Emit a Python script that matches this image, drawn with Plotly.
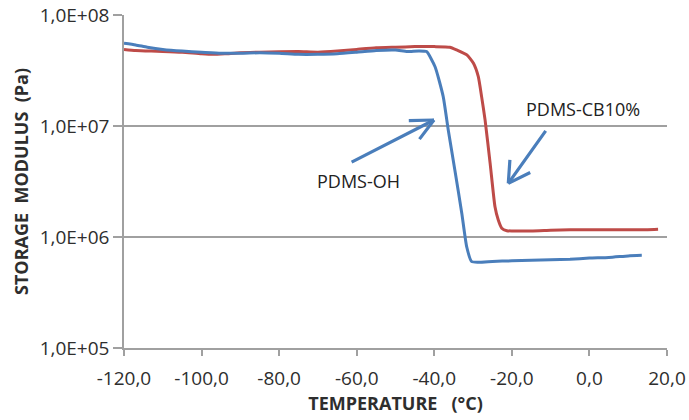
import plotly.graph_objects as go

# ---- data ----
oh_temp = [-120, -117, -114, -110, -105, -100, -95, -90, -85, -80, -75, -70, -65, -60,
           -55, -50, -47, -44, -42, -39.8, -37.7, -36.4, -34.7, -32.9, -31.65, -30.35,
           -25, -20, -15, -10, -5, 0, 5, 10, 13.5]
oh_modulus = [5.56e7, 5.37e7, 5.13e7, 4.90e7, 4.73e7, 4.62e7, 4.52e7, 4.52e7, 4.57e7,
              4.52e7, 4.42e7, 4.42e7, 4.47e7, 4.62e7, 4.79e7, 4.84e7, 4.68e7, 4.75e7,
              4.68e7, 3.42e7, 1.84e7, 9.2e6, 4.02e6, 1.63e6, 8.18e5, 6.0e5,
              6.03e5, 6.10e5, 6.17e5, 6.24e5, 6.31e5, 6.46e5, 6.53e5, 6.76e5, 6.84e5]

cb_temp = [-120, -117, -113, -110, -105, -100, -97, -94, -90, -85, -80, -75, -70, -65,
           -60, -55, -50, -45, -40, -36, -34.2, -31.6, -29.9, -28.65, -27.8, -26.9,
           -25.6, -24.35, -23.5, -22.6, -21.3, -15, -10, -5, 0, 5, 10, 15, 17.7]
cb_modulus = [4.90e7, 4.79e7, 4.73e7, 4.70e7, 4.62e7, 4.47e7, 4.42e7, 4.47e7, 4.57e7,
              4.62e7, 4.66e7, 4.68e7, 4.62e7, 4.73e7, 4.90e7, 5.07e7, 5.13e7, 5.19e7,
              5.19e7, 5.13e7, 4.84e7, 4.37e7, 3.67e7, 2.78e7, 1.84e7, 1.13e7,
              4.61e6, 1.87e6, 1.42e6, 1.20e6, 1.14e6, 1.135e6, 1.15e6, 1.16e6, 1.16e6,
              1.16e6, 1.16e6, 1.165e6, 1.175e6]

x_tick_vals = [-120, -100, -80, -60, -40, -20, 0, 20]
x_tick_text = ["-120,0", "-100,0", "-80,0", "-60,0", "-40,0", "-20,0", "0,0", "20,0"]
y_tick_vals = [1e5, 1e6, 1e7, 1e8]
y_tick_text = ["1,0E+05", "1,0E+06", "1,0E+07", "1,0E+08"]

BLUE = "#4A7EBB"
RED = "#BE4B48"
GRID = "#A0A0A0"
TXT = "#2E2E2E"

fig = go.Figure()
fig.add_trace(go.Scatter(x=cb_temp, y=cb_modulus, mode="lines", name="PDMS-CB10%",
                         line=dict(color=RED, width=3, shape="spline", smoothing=0.5)))
fig.add_trace(go.Scatter(x=oh_temp, y=oh_modulus, mode="lines", name="PDMS-OH",
                         line=dict(color=BLUE, width=3, shape="spline", smoothing=0.5)))

# open "V" arrows: shaft + two arms (data coords; y in log10 units)
arrows = [
    (-40.07, 7.054, [(-61.7, 6.667), (-46.96, 7.048), (-44.12, 6.868)]),
    (-20.92, 6.484, [(-11.0, 6.970), (-20.48, 6.709), (-14.88, 6.588)]),
]
for hx, hy, ends in arrows:
    for ex, ey in ends:
        fig.add_annotation(x=hx, y=hy, ax=ex, ay=ey, xref="x", yref="y",
                           axref="x", ayref="y", text="", showarrow=True,
                           arrowhead=0, arrowwidth=3.2, arrowcolor=BLUE,
                           standoff=0, startstandoff=0)

fig.add_annotation(x=-59.5, y=6.505, xref="x", yref="y", text="PDMS-OH",
                   showarrow=False, font=dict(family="Open Sans", size=18, color="#222222"))
fig.add_annotation(x=-1.7, y=7.153, xref="x", yref="y", text="PDMS-CB10%",
                   showarrow=False, font=dict(family="Open Sans", size=18, color="#222222"))

fig.update_layout(
    template="none",
    width=689, height=420,
    margin=dict(l=124, r=22, t=15, b=72, autoexpand=False),
    paper_bgcolor="white", plot_bgcolor="white",
    showlegend=False,
    font=dict(family="Open Sans", color=TXT),
)
fig.update_xaxes(
    automargin=False,
    range=[-120, 20], tickvals=x_tick_vals, ticktext=x_tick_text,
    tickfont=dict(family="Open Sans", size=19, color=TXT),
    showgrid=False, zeroline=False,
    showline=True, linecolor=GRID, linewidth=1.5,
    ticks="outside", ticklen=6, tickcolor=GRID, tickwidth=1.5,
    ticklabelstandoff=6,
    title=dict(text="<b>TEMPERATURE   (°C)</b>", standoff=2,
               font=dict(family="Open Sans", size=18, color=TXT)),
)
fig.update_yaxes(
    automargin=False,
    type="log", range=[5, 8], tickvals=y_tick_vals, ticktext=y_tick_text,
    tickfont=dict(family="Open Sans", size=19, color=TXT),
    showgrid=True, gridcolor=GRID, gridwidth=1.5, zeroline=False,
    showline=True, linecolor=GRID, linewidth=1.5,
    ticks="outside", ticklen=9, tickcolor=GRID, tickwidth=1.5,
    title=dict(text="<b>STORAGE  MODULUS  (Pa)</b>", standoff=6,
               font=dict(family="Open Sans", size=18, color=TXT)),
)

fig.write_html("out.html")
